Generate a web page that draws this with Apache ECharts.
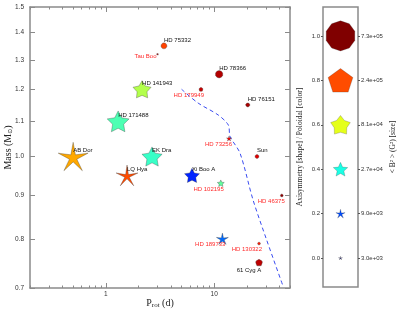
<!DOCTYPE html>
<html><head><meta charset="utf-8">
<script src="https://cdn.jsdelivr.net/npm/echarts@6/dist/echarts.min.js"></script>
<style>html,body{margin:0;padding:0;background:#fff}#c{width:400px;height:320px}</style>
</head><body><div id="c"></div>
<script>
// ---------- data ----------
const starNames = ['AB Dor','LQ Hya','EK Dra','HD 171488','HD 141943','Tau Boo','HD 75332','HD 78366','HD 179949','HD 76151','HD 73256','Sun','Xi Boo A','HD 102195','HD 46375','HD 189733','HD 130322','61 Cyg A'];
const protDays  = [0.50, 1.57, 2.67, 1.30, 2.16, 3.0, 3.44, 11.1, 7.55, 20.4, 13.7, 24.8, 6.24, 11.5, 42.0, 11.9, 25.9, 25.9];
const massSun   = [1.00, 0.95, 1.00, 1.10, 1.20, 1.32, 1.35, 1.25, 1.20, 1.15, 1.05, 1.00, 0.95, 0.93, 0.90, 0.80, 0.79, 0.75];
const poloidal  = [0.71, 0.80, 0.43, 0.45, 0.55, 0.95, 0.81, 0.95, 0.93, 0.96, 0.88, 0.905, 0.16, 0.47, 0.98, 0.23, 0.85, 0.94];
const axisym    = [0.15, 0.10, 0.45, 0.45, 0.50, 0.50, 0.90, 0.95, 0.85, 0.90, 0.30, 0.90, 0.45, 0.40, 0.85, 0.20, 0.80, 0.85];
const b2        = [7.0e5, 1.3e5, 9.0e4, 1.3e5, 5.8e4, 2.0e3, 4.6e3, 6.3e3, 3.0e3, 3.0e3, 3.7e3, 3.0e3, 3.0e4, 5.6e3, 2.4e3, 1.6e4, 2.4e3, 5.4e3];
const planetHost= [false,false,false,false,false,true,false,false,true,false,true,false,false,true,true,true,true,false];

const roLineP = [5.0, 7.1, 10.9, 13.5, 14.0, 17.3, 22.8, 30.5, 43.4];
const roLineM = [1.20, 1.156, 1.119, 1.089, 1.056, 1.009, 0.889, 0.797, 0.702];

const xMajorTicks = [1, 10];
const xMinorTicks = [0.2,0.3,0.4,0.5,0.6,0.7,0.8,0.9,2,3,4,5,6,7,8,9,20,30,40,50];
const yTicks = [0.7,0.8,0.9,1.0,1.1,1.2,1.3,1.4,1.5];

const legendLevels = [0.0, 0.2, 0.4, 0.6, 0.8, 1.0];
const legendB2 = [3.0e3, 9.0e3, 2.7e4, 8.1e4, 2.4e5, 7.3e5];
const legendB2Labels = ['3.0e+03','9.0e+03','2.7e+04','8.1e+04','2.4e+05','7.3e+05'];

// ---------- helpers ----------
const L = Math.log10;
function jet(v){
  const c = x => Math.max(0, Math.min(1, x));
  const r = c(Math.min(4*v-1.5, -4*v+4.5));
  const g = c(Math.min(4*v-0.5, -4*v+3.5));
  const b = c(Math.min(4*v+0.5, -4*v+2.5));
  return 'rgb(' + Math.round(r*255) + ',' + Math.round(g*255) + ',' + Math.round(b*255) + ')';
}
function symbolFor(a){
  let pts = [];
  if (a >= 0.9) {
    for (let i = 0; i < 10; i++) {
      const t = -Math.PI/2 + i*2*Math.PI/10;
      pts.push([50 + 50*Math.cos(t), 50 + 50*Math.sin(t)]);
    }
  } else {
    const inner = 0.12 + 0.86*a;
    for (let i = 0; i < 10; i++) {
      const t = -Math.PI/2 + i*Math.PI/5;
      const r = (i % 2 === 0) ? 50 : 50*inner;
      pts.push([50 + r*Math.cos(t), 50 + r*Math.sin(t)]);
    }
  }
  return 'path://M' + pts.map(p => p[0].toFixed(2) + ' ' + p[1].toFixed(2)).join(' L') + ' Z';
}
function sizeFor(b){ return Math.max(2, 4 + (L(b) - L(3000))*10.92); }

const labelMode = {
  'AB Dor':'above','LQ Hya':'above','EK Dra':'above','HD 171488':'above','HD 141943':'above',
  'HD 75332':'above','HD 78366':'above','HD 76151':'above','Sun':'above','Xi Boo A':'above',
  'Tau Boo':'left','61 Cyg A':'below'
};
function labelFor(name, red){
  const mode = labelMode[name] || 'lowleft';
  const base = {show:true, position:'inside', formatter: name, fontSize:6, fontFamily:'Liberation Sans',
                color: red ? '#ff2a2a' : '#111', verticalAlign:'middle'};
  if (mode === 'above') return Object.assign(base, {align:'left', offset:[0,-6]});
  if (mode === 'left') return Object.assign(base, {align:'right', offset:[-1,2]});
  if (mode === 'below') return Object.assign(base, {align:'center', offset:[-10,8]});
  return Object.assign(base, {align:'right', offset:[3,6]});
}

const stars = starNames.map((n, i) => ({
  name: n,
  value: [L(protDays[i]), L(massSun[i])],
  symbol: symbolFor(axisym[i]),
  symbolSize: sizeFor(b2[i]),
  itemStyle: {color: jet(poloidal[i])},
  label: labelFor(n, planetHost[i])
}));
const roLine = roLineP.map((p, i) => [L(p), L(roLineM[i])]);
const legendData = legendLevels.map((v, i) => ({
  value: [0.5, v], symbol: symbolFor(v), symbolSize: sizeFor(legendB2[i]),
  itemStyle: {color: jet(v)}
}));

const AX = '#8a8a8a';
const tickFont = {fontSize:6.5, fontFamily:'Liberation Sans', color:'#333'};
const g0 = {left:30, top:7, width:260, height:281};
const xMin = L(0.2), xMax = L(50), yMin = L(0.7), yMax = L(1.5);
const line = {onZero:false, lineStyle:{color:AX, width:1.5}};

const option = {
  animation: false,
  grid: [
    Object.assign({show:false, outerBoundsMode:'none'}, g0),
    {left:323, top:7, width:35, height:280, show:true, borderColor:AX, borderWidth:1.5, outerBoundsMode:'none'},
    Object.assign({show:false, outerBoundsMode:'none'}, g0)
  ],
  xAxis: [
    {gridIndex:0, type:'value', position:'bottom', min:xMin, max:xMax,
     axisLine:line,
     axisTick:{inside:true, length:5, customValues: xMajorTicks.map(L), lineStyle:{color:AX}},
     axisLabel:Object.assign({customValues: xMajorTicks.map(L), margin:3,
       formatter: v => String(Math.round(Math.pow(10, v)))}, tickFont),
     splitLine:{show:false},
     name:'{a|P}{s|rot}{a| (d)}', nameLocation:'middle', nameGap:9, nameMoveOverlap:false,
     nameTextStyle:{rich:{a:{fontFamily:'Liberation Serif', fontSize:10, color:'#222'},
                          s:{fontFamily:'Liberation Serif', fontSize:7, color:'#222', padding:[5,0,0,0]}}}},
    {gridIndex:0, type:'value', position:'top', min:xMin, max:xMax,
     axisLine:line,
     axisTick:{inside:true, length:5, customValues: xMajorTicks.map(L), lineStyle:{color:AX}},
     axisLabel:{show:false}, splitLine:{show:false}},
    {gridIndex:1, type:'value', min:0, max:1, show:false, axisLine:{onZero:false}},
    {gridIndex:2, type:'value', position:'bottom', min:xMin, max:xMax,
     axisLine:{show:false, onZero:false},
     axisTick:{inside:true, length:2.5, customValues: xMinorTicks.map(L), lineStyle:{color:AX}},
     axisLabel:{show:false}, splitLine:{show:false}},
    {gridIndex:2, type:'value', position:'top', min:xMin, max:xMax,
     axisLine:{show:false, onZero:false},
     axisTick:{inside:true, length:2.5, customValues: xMinorTicks.map(L), lineStyle:{color:AX}},
     axisLabel:{show:false}, splitLine:{show:false}}
  ],
  yAxis: [
    {gridIndex:0, type:'value', position:'left', min:yMin, max:yMax,
     axisLine:Object.assign({show:true}, line),
     axisTick:{show:true, inside:true, length:5, customValues: yTicks.map(L), lineStyle:{color:AX}},
     axisLabel:Object.assign({customValues: yTicks.map(L), margin:6,
       formatter: v => Math.pow(10, v).toFixed(1)}, tickFont),
     splitLine:{show:false},
     name:'{a|Mass (M}{s|⊙}{a|)}', nameLocation:'middle', nameGap:17, nameMoveOverlap:false,
     nameTextStyle:{rich:{a:{fontFamily:'Liberation Serif', fontSize:10, color:'#222'},
                          s:{fontFamily:'DejaVu Sans', fontSize:6, color:'#222', padding:[4,0,0,0]}}}},
    {gridIndex:0, type:'value', position:'right', min:yMin, max:yMax,
     axisLine:Object.assign({show:true}, line),
     axisTick:{show:true, inside:true, length:5, customValues: yTicks.map(L), lineStyle:{color:AX}},
     axisLabel:{show:false}, splitLine:{show:false}},
    {gridIndex:1, type:'value', position:'left', min:-0.13, max:1.13,
     axisLine:{show:false, onZero:false},
     axisTick:{show:true, length:2, customValues: legendLevels, lineStyle:{color:'#555'}},
     axisLabel:Object.assign({customValues: legendLevels, margin:3, formatter: v => v.toFixed(1)}, tickFont, {fontSize:6}),
     splitLine:{show:false},
     name:'Axisymmetry [shape] / Poloidal [color]', nameLocation:'middle', nameGap:19, nameMoveOverlap:false,
     nameTextStyle:{fontFamily:'Liberation Serif', fontSize:7.5, color:'#222'}},
    {gridIndex:1, type:'value', position:'right', min:-0.13, max:1.13,
     axisLine:{show:false, onZero:false},
     axisTick:{show:true, length:2, customValues: legendLevels, lineStyle:{color:'#555'}},
     axisLabel:Object.assign({customValues: legendLevels, margin:3,
       formatter: v => { let k = 0; legendLevels.forEach((l, i) => { if (Math.abs(l - v) < Math.abs(legendLevels[k] - v)) k = i; }); return legendB2Labels[k]; }},
       tickFont, {fontSize:6}),
     splitLine:{show:false},
     name:'< B² > (G²) [size]', nameLocation:'middle', nameGap:31, nameRotate:90, nameMoveOverlap:false,
     nameTextStyle:{fontFamily:'Liberation Serif', fontSize:7.5, color:'#222'}},
    {gridIndex:2, type:'value', min:yMin, max:yMax, show:false, axisLine:{onZero:false}}
  ],
  series: [
    {type:'line', xAxisIndex:0, yAxisIndex:0, data: roLine, symbol:'none', smooth:0.3,
     lineStyle:{color:'#3a4cf0', width:1, type:[4,3]}, z:1},
    {type:'scatter', xAxisIndex:0, yAxisIndex:0, data: stars, symbolKeepAspect:true,
     itemStyle:{borderColor:'rgba(50,50,50,0.8)', borderWidth:0.4, opacity:1}, z:3},
    {type:'scatter', xAxisIndex:2, yAxisIndex:2, data: legendData, symbolKeepAspect:true,
     itemStyle:{borderColor:'rgba(50,50,50,0.6)', borderWidth:0.4, opacity:1}, z:3}
  ]
};
const chart = echarts.init(document.getElementById('c'), null, {renderer:'canvas'});
chart.setOption(option);
</script></body></html>
